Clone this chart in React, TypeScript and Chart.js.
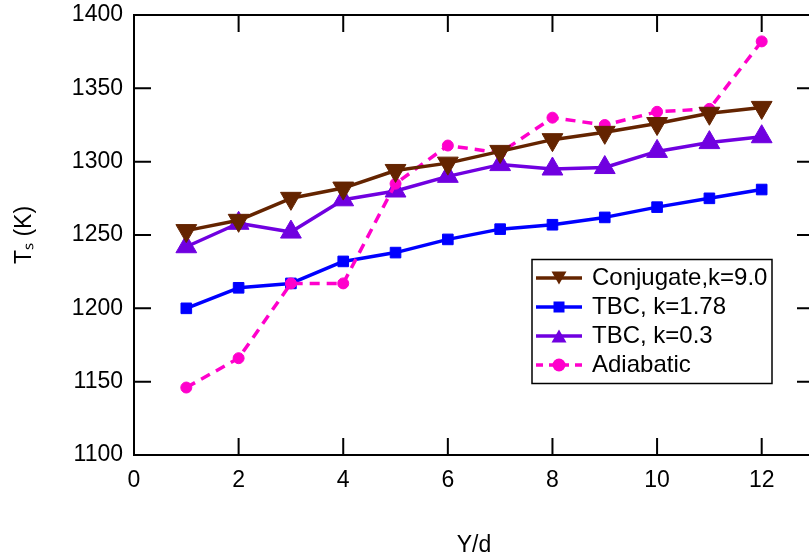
import React, { useEffect, useRef } from "react";
import { Chart, registerables } from "chart.js";

Chart.register(...registerables);

// ---- data ----
const xValues = [1, 2, 3, 4, 5, 6, 7, 8, 9, 10, 11, 12];
const conjugateK90 = [1253, 1260, 1275, 1282, 1294, 1299, 1307, 1315, 1320, 1326, 1333, 1337];
const tbcK178 = [1200, 1214, 1217, 1232, 1238, 1247, 1254, 1257, 1262, 1269, 1275, 1281];
const tbcK03 = [1242, 1258, 1252, 1274, 1280, 1290, 1298, 1295, 1296, 1307, 1313, 1317];
const adiabatic = [1146, 1166, 1217, 1217, 1285, 1311, 1306, 1330, 1325, 1334, 1336, 1382];
const seriesLabels = ["Conjugate,k=9.0", "TBC, k=1.78", "TBC, k=0.3", "Adiabatic"];
const xTitle = "Y/d";
const yTitle = "Tₛ (K)";
const xMin = 0;
const xMax = 13;
const xStep = 2;
const yMin = 1100;
const yMax = 1400;
const yStep = 50;

// ---- styles ----
const BROWN = "#642400";
const BLUE = "#0000ff";
const PURPLE = "#7000e0";
const MAGENTA = "#ff00cc";
const FONT = "'Liberation Sans', Arial, Helvetica, sans-serif";
const LEGEND_LEFT = 533;
const LEGEND_TOP = 261;
const TICK_LEN = 17;

type Kind = "tri-down" | "square" | "tri-up" | "circle";

function makeGlyph(color: string, kind: Kind, dashed: boolean) {
  const c = document.createElement("canvas");
  c.width = 46;
  c.height = 24;
  const ctx = c.getContext("2d")!;
  ctx.strokeStyle = color;
  ctx.fillStyle = color;
  ctx.lineWidth = 3.5;
  if (dashed) ctx.setLineDash([7, 6]);
  ctx.beginPath();
  ctx.moveTo(0, 12);
  ctx.lineTo(46, 12);
  ctx.stroke();
  ctx.setLineDash([]);
  const cx = 23;
  const cy = 12;
  ctx.beginPath();
  if (kind === "tri-down") {
    ctx.moveTo(cx - 7.5, cy - 6.5);
    ctx.lineTo(cx + 7.5, cy - 6.5);
    ctx.lineTo(cx, cy + 6.5);
    ctx.closePath();
  } else if (kind === "tri-up") {
    ctx.moveTo(cx - 7.5, cy + 6.5);
    ctx.lineTo(cx + 7.5, cy + 6.5);
    ctx.lineTo(cx, cy - 6.5);
    ctx.closePath();
  } else if (kind === "square") {
    ctx.rect(cx - 5.5, cy - 5.5, 11, 11);
  } else {
    ctx.arc(cx, cy, 6.5, 0, Math.PI * 2);
  }
  ctx.fill();
  return c;
}

const framePlugin = {
  id: "frameTicks",
  afterLayout(chart: any) {
    const lg = chart.legend;
    if (lg) {
      lg.left = LEGEND_LEFT;
      lg.top = LEGEND_TOP;
      lg.width = 240;
      lg.height = 200;
      lg.right = LEGEND_LEFT + 240;
      lg.bottom = LEGEND_TOP + 200;
    }
  },
  beforeDatasetsDraw(chart: any) {
    const { ctx, chartArea: a, scales } = chart;
    ctx.save();
    ctx.strokeStyle = "#000";
    ctx.lineWidth = 2;
    ctx.beginPath();
    ctx.moveTo(a.left - 1, a.top);
    ctx.lineTo(a.right, a.top);
    ctx.lineTo(a.right, a.bottom);
    ctx.stroke();
    ctx.beginPath();
    scales.x.ticks.forEach((t: any) => {
      const px = scales.x.getPixelForValue(t.value);
      ctx.moveTo(px, a.bottom);
      ctx.lineTo(px, a.bottom - TICK_LEN);
      ctx.moveTo(px, a.top);
      ctx.lineTo(px, a.top + TICK_LEN);
    });
    scales.y.ticks.forEach((t: any) => {
      const py = scales.y.getPixelForValue(t.value);
      ctx.moveTo(a.left, py);
      ctx.lineTo(a.left + TICK_LEN, py);
      ctx.moveTo(a.right, py);
      ctx.lineTo(a.right - TICK_LEN, py);
    });
    ctx.stroke();
    const lg = chart.legend;
    if (lg) {
      ctx.lineWidth = 1.5;
      ctx.strokeRect(lg.left - 1, lg.top - 1.5, 240, 124);
    }
    ctx.restore();
  },
};

function pts(values: number[]) {
  return xValues.map((x, i) => ({ x, y: values[i] }));
}

export default function App() {
  const ref = useRef<HTMLCanvasElement | null>(null);

  useEffect(() => {
    if (!ref.current) return;
    Chart.defaults.font.family = FONT;
    const glyphs = [
      makeGlyph(BROWN, "tri-down", false),
      makeGlyph(BLUE, "square", false),
      makeGlyph(PURPLE, "tri-up", false),
      makeGlyph(MAGENTA, "circle", true),
    ];
    const common = { borderWidth: 3.5, pointBorderWidth: 1, tension: 0, borderJoinStyle: "round" as const };
    const chart = new Chart(ref.current, {
      type: "line",
      data: {
        datasets: [
          {
            ...common,
            label: seriesLabels[0],
            data: pts(conjugateK90),
            borderColor: BROWN,
            backgroundColor: BROWN,
            pointBackgroundColor: BROWN,
            pointBorderColor: BROWN,
            pointStyle: "triangle",
            pointRotation: 180,
            pointRadius: 12,
            order: 0,
          },
          {
            ...common,
            label: seriesLabels[1],
            data: pts(tbcK178),
            borderColor: BLUE,
            backgroundColor: BLUE,
            pointBackgroundColor: BLUE,
            pointBorderColor: BLUE,
            pointStyle: "rect",
            pointRadius: 7.5,
            order: 2,
          },
          {
            ...common,
            label: seriesLabels[2],
            data: pts(tbcK03),
            borderColor: PURPLE,
            backgroundColor: PURPLE,
            pointBackgroundColor: PURPLE,
            pointBorderColor: PURPLE,
            pointStyle: "triangle",
            pointRadius: 12,
            order: 3,
          },
          {
            ...common,
            label: seriesLabels[3],
            data: pts(adiabatic),
            borderColor: MAGENTA,
            backgroundColor: MAGENTA,
            pointBackgroundColor: MAGENTA,
            pointBorderColor: MAGENTA,
            borderDash: [10, 7],
            pointStyle: "circle",
            pointRadius: 5.5,
            order: 1,
          },
        ],
      },
      options: {
        animation: false,
        responsive: false,
        maintainAspectRatio: false,
        layout: { padding: { left: 0, top: 15, right: 16, bottom: 0 } },
        scales: {
          x: {
            type: "linear",
            min: xMin,
            max: xMax,
            ticks: {
              stepSize: xStep,
              includeBounds: false,
              color: "#000",
              font: { size: 23 },
              padding: 11.5,
              maxRotation: 0,
              callback: (v: any) => String(v),
            },
            grid: { display: false, drawTicks: false },
            border: { display: true, color: "#000", width: 2 },
            title: {
              display: true,
              text: xTitle,
              color: "#000",
              font: { size: 23 },
              padding: { top: 0, bottom: 0 },
            },
            afterFit: (s: any) => {
              s.height = 104;
              s.paddingLeft = 0;
              s.paddingRight = 0;
            },
          },
          y: {
            type: "linear",
            min: yMin,
            max: yMax,
            ticks: {
              stepSize: yStep,
              color: "#000",
              font: { size: 23 },
              padding: 11,
              callback: (v: any) => String(v),
            },
            grid: { display: false, drawTicks: false },
            border: { display: true, color: "#000", width: 2 },
            title: {
              display: true,
              text: yTitle,
              color: "#000",
              font: { size: 23 },
              padding: { top: 11, bottom: 0 },
            },
            afterFit: (s: any) => {
              s.width = 134;
              s.paddingTop = 0;
              s.paddingBottom = 0;
            },
          },
        },
        plugins: {
          legend: {
            position: "chartArea" as any,
            align: "start",
            labels: {
              usePointStyle: true,
              pointStyleWidth: 42,
              boxHeight: 24,
              padding: 5,
              color: "#000",
              font: { size: 24 },
              sort: (a: any, b: any) => a.datasetIndex - b.datasetIndex,
              generateLabels: (c: any) => {
                const items = (Chart.defaults.plugins.legend.labels as any).generateLabels(c);
                return items.map((it: any) => ({ ...it, pointStyle: glyphs[it.datasetIndex], rotation: 0 }));
              },
            },
          },
          tooltip: { enabled: false },
        },
      } as any,
      plugins: [framePlugin],
    });
    return () => chart.destroy();
  }, []);

  return (
    <div
      style={{
        position: "fixed",
        left: 0,
        top: 0,
        width: 809,
        height: 559,
        overflow: "hidden",
        background: "#fff",
      }}
    >
      <canvas ref={ref} width={830} height={559} style={{ display: "block", width: 830, height: 559 }} />
    </div>
  );
}
